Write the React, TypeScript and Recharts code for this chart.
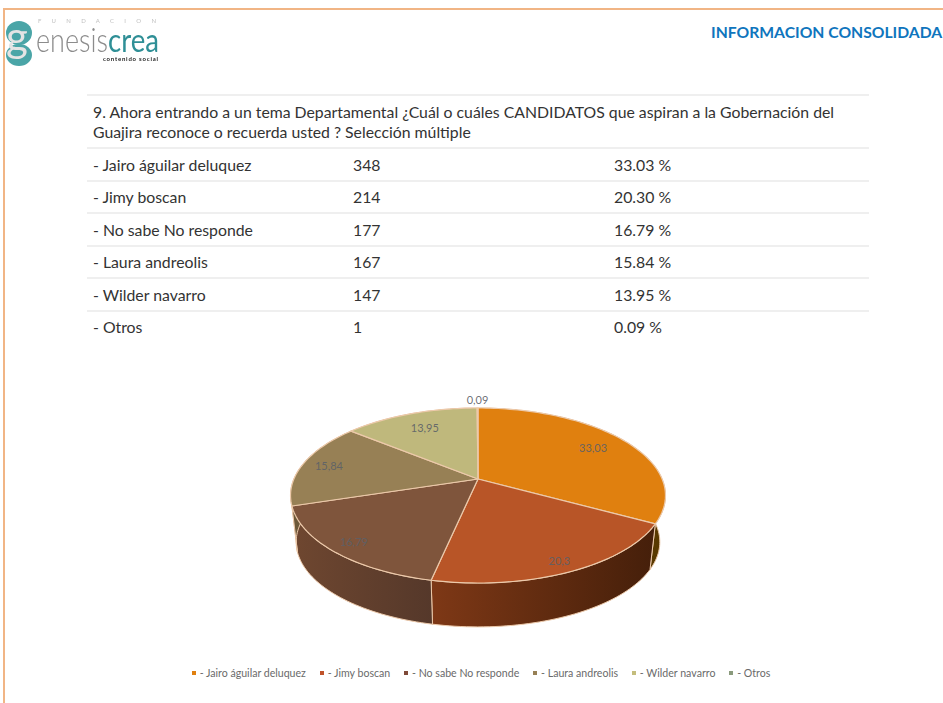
import React from "react";
import { PieChart, Pie, Legend, Cell } from "recharts";

const question = [
  "9. Ahora entrando a un tema Departamental ¿Cuál o cuáles CANDIDATOS que aspiran a la Gobernación del",
  "Guajira reconoce o recuerda usted ? Selección múltiple",
];
const names = ["- Jairo águilar deluquez", "- Jimy boscan", "- No sabe No responde", "- Laura andreolis", "- Wilder navarro", "- Otros"];
const counts = [348, 214, 177, 167, 147, 1];
const percents = [33.03, 20.3, 16.79, 15.84, 13.95, 0.09];
const percentTexts = ["33.03 %", "20.30 %", "16.79 %", "15.84 %", "13.95 %", "0.09 %"];

const topColors = ["#e0800f", "#b85527", "#7f553c", "#978055", "#bfb87c", "#8a9a7c"];
const legendColors = ["#e0800f", "#c0532a", "#7f4a38", "#978055", "#c4bd7c", "#8a9a7c"];
const wallLeft = ["#6e4700", "#7e3816", "#6f4730", "#6f5a3a", "#8a8450", "#666666"];
const wallRight = ["#573800", "#451f0a", "#55382a", "#5f4c30", "#7a7444", "#666666"];
const labelRadii = [0.78, 0.9, 0.88, 0.85, 0.76, 1.15];

const rows = names.map((name, i) => ({ name, value: percents[i] }));

const PERSPECTIVE = 0.1886;
const SQUASH = 84.4 / 184.1;
const DEPTH = 47;
const BOTTOM_SCALE = 0.97;
const EDGE = "#ecc9aa";

function project(cx: number, cy: number, R: number, r: number, deg: number, scale = 1, dy = 0) {
  const a = (deg * Math.PI) / 180;
  const u = r * Math.cos(a);
  const v = -r * Math.sin(a);
  const d = 1 - PERSPECTIVE * v;
  return [cx + (scale * R * u) / d, cy + dy + (scale * R * SQUASH * v) / d];
}

function arc(props: any, scale = 1, dy = 0) {
  const { cx, cy, outerRadius, startAngle, endAngle } = props;
  const n = Math.max(2, Math.ceil(Math.abs(endAngle - startAngle) / 1.5));
  const pts: number[][] = [];
  for (let i = 0; i <= n; i++) {
    pts.push(project(cx, cy, outerRadius, 1, startAngle + ((endAngle - startAngle) * i) / n, scale, dy));
  }
  return pts;
}

const toD = (pts: number[][]) => "M" + pts.map((p) => `${p[0].toFixed(2)},${p[1].toFixed(2)}`).join("L") + "Z";

function TopFace(props: any) {
  const pts = [[props.cx, props.cy], ...arc(props)];
  return <path d={toD(pts)} fill={props.fill} stroke={EDGE} strokeWidth={1.2} strokeLinejoin="round" />;
}

function Wall(props: any) {
  const top = arc(props);
  const bottom = arc(props, BOTTOM_SCALE, DEPTH).reverse();
  return <path d={toD([...top, ...bottom])} fill={props.fill} stroke={EDGE} strokeWidth={1} strokeLinejoin="round" />;
}

function DataLabel(props: any) {
  const { cx, cy, outerRadius, midAngle, index, value } = props;
  const [x, y] = project(cx, cy, outerRadius, labelRadii[index], midAngle);
  return (
    <text x={x} y={y} textAnchor="middle" dominantBaseline="central" fontSize={11} fontFamily="Lato" fill="#5b6068" fillOpacity={0.9}>
      {String(value).replace(".", ",")}
    </text>
  );
}

function LegendContent({ payload }: any) {
  const seen = new Set((payload || []).map((p: any) => p.value));
  const items = names.filter((n) => seen.has(n));
  return (
    <div style={{ display: "flex", justifyContent: "center", gap: 13.8, fontFamily: "Lato", fontSize: 10.6, color: "#6a6a6a", paddingLeft: 19 }}>
      {items.map((n) => (
        <span key={n} style={{ display: "inline-flex", alignItems: "center", gap: 4, whiteSpace: "nowrap" }}>
          <span style={{ width: 4, height: 4, background: legendColors[names.indexOf(n)], display: "inline-block" }} />
          {n}
        </span>
      ))}
    </div>
  );
}

function Logo() {
  return (
    <svg width={170} height={85} style={{ position: "absolute", left: 0, top: 0, filter: "blur(0.5px)" }}>
      <text x={38} y={23} fontFamily="Lato" fontSize={6} fill="#c0c0c0" textLength={118}>F U N D A C I O N</text>
      <ellipse cx={19} cy={33} rx={13} ry={12} fill="#4aa5a7" />
      <ellipse cx={19} cy={55} rx={13} ry={11} fill="#4aa5a7" />
      <text x={6} y={52} fontFamily="Lato" fontSize={42} fill="#e4e4e4">g</text>
      <text x={36} y={52} fontFamily="Lato" fontWeight={300} fontSize={33} fill="#8c8c8c" textLength={72} lengthAdjust="spacingAndGlyphs">enesis</text>
      <text x={108} y={52} fontFamily="Lato" fontSize={33} fill="#2f8f96" textLength={51} lengthAdjust="spacingAndGlyphs">crea</text>
      <text x={103} y={61} fontFamily="Lato" fontWeight={700} fontSize={6} fill="#222" textLength={55}>contenido social</text>
    </svg>
  );
}

export default function App() {
  const textStyle: React.CSSProperties = { position: "absolute", fontFamily: "Lato", fontSize: 15.8, color: "#333", whiteSpace: "nowrap", lineHeight: "20px" };
  const ruleYs = [95, 148, 181, 213, 246, 278, 311];
  const rowYs = [165, 197, 230, 262, 295, 327];
  return (
    <div style={{ position: "absolute", left: 0, top: 0, width: 943, height: 703, background: "#fff", overflow: "hidden" }}>
      <div style={{ position: "absolute", left: 3, top: 8, right: 0, height: 2, background: "#f1b585" }} />
      <div style={{ position: "absolute", left: 3, top: 8, bottom: 0, width: 2, background: "#f1b585" }} />
      <Logo />
      <div style={{ position: "absolute", left: 711, top: 22, fontFamily: "Lato", fontWeight: 700, fontSize: 15.7, color: "#0f75bd", whiteSpace: "nowrap", lineHeight: "20px" }}>
        INFORMACION CONSOLIDADA
      </div>
      {ruleYs.map((y) => (
        <div key={y} style={{ position: "absolute", left: 87, width: 782, top: y - 1, height: 2, background: "#efefef" }} />
      ))}
      {question.map((q, i) => (
        <div key={i} style={{ ...textStyle, left: 93, top: 102 + i * 21 - (i ? 1 : 0) }}>{q}</div>
      ))}
      {names.map((n, i) => (
        <React.Fragment key={n}>
          <div style={{ ...textStyle, left: 93, top: rowYs[i] - 10 }}>{n}</div>
          <div style={{ ...textStyle, left: 353, top: rowYs[i] - 10 }}>{counts[i]}</div>
          <div style={{ ...textStyle, left: 614, top: rowYs[i] - 10 }}>{percentTexts[i]}</div>
        </React.Fragment>
      ))}
      <div style={{ position: "absolute", left: 0, top: 380 }}>
        <PieChart width={943} height={323} margin={{ top: 0, right: 0, bottom: 0, left: 0 }}>
          <defs>
            {wallLeft.map((c, i) => (
              <linearGradient key={i} id={`wall${i}`} x1="0" y1="0" x2="1" y2="0">
                <stop offset="0" stopColor={c} />
                <stop offset="1" stopColor={wallRight[i]} />
              </linearGradient>
            ))}
          </defs>
          <Pie
            data={rows}
            dataKey="value"
            nameKey="name"
            cx={478}
            cy={99}
            innerRadius={0}
            outerRadius={184.1}
            startAngle={90}
            endAngle={-270}
            paddingAngle={0}
            legendType="none"
            isAnimationActive={false}
            shape={Wall}
            label={false}
          >
            {rows.map((r, i) => (
              <Cell key={r.name} fill={`url(#wall${i})`} />
            ))}
          </Pie>
          <Pie
            data={rows}
            dataKey="value"
            nameKey="name"
            cx={478}
            cy={99}
            innerRadius={0}
            outerRadius={184.1}
            startAngle={90}
            endAngle={-270}
            paddingAngle={0}
            isAnimationActive={false}
            shape={TopFace}
            labelLine={false}
            label={DataLabel}
          >
            {rows.map((r, i) => (
              <Cell key={r.name} fill={topColors[i]} />
            ))}
          </Pie>
          <Legend
            content={<LegendContent />}
            wrapperStyle={{ position: "absolute", left: 0, top: 287, width: 943 }}
          />
        </PieChart>
      </div>
    </div>
  );
}
